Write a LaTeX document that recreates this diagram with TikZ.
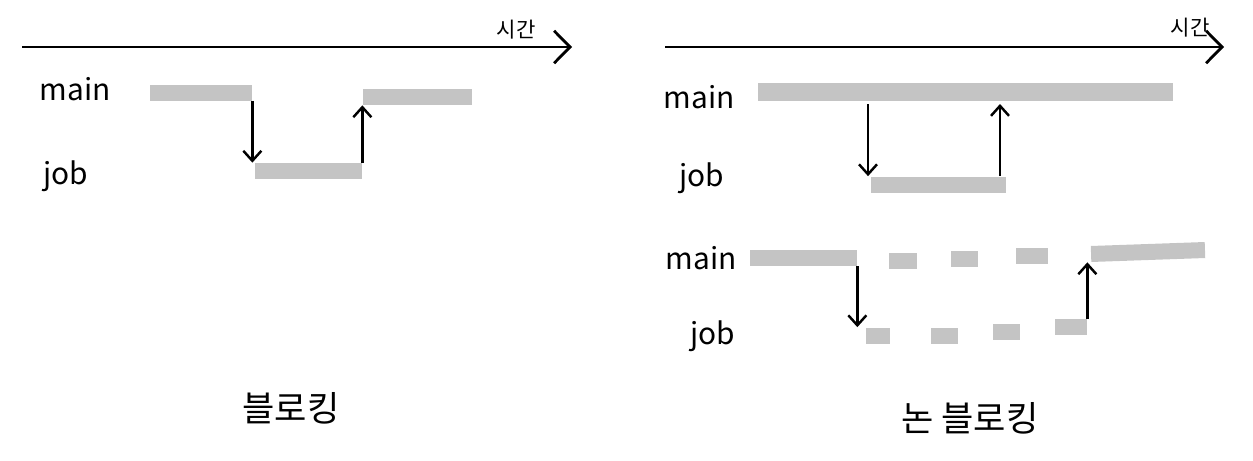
\documentclass[tikz,border=0pt]{standalone}
\usepackage{fontspec}
\setmainfont{Noto Sans CJK KR}
\usetikzlibrary{arrows.meta}
\definecolor{barGray}{HTML}{C4C4C4}
\begin{document}
\begin{tikzpicture}[
    x=0.02cm, y=-0.02cm,
    bar/.style={fill=barGray, inner sep=0pt, minimum height=0.32cm},
    lbl/.style={font=\fontsize{17}{19}\selectfont, inner sep=0pt},
    title/.style={font=\fontsize{20}{22}\selectfont, inner sep=0pt},
    timelbl/.style={font=\fontsize{12}{14}\selectfont, inner sep=0pt},
    axis/.style={line width=1.6pt, -{Straight Barb[length=3.2mm, width=6.5mm, line width=1.6pt]}},
    call/.style={line width=1.4pt, -{Straight Barb[length=2mm, width=3.6mm, line width=1.4pt]}}
  ]
  \useasboundingbox (0,0) rectangle (1253,460);

  % blocking
  \coordinate (t0) at (22,47);
  \coordinate (t1) at (572,47);
  \draw[axis] (t0) -- (t1);
  \node[timelbl] (time1) at (516,30) {시간};
  \node[lbl] (main1) at (75,89) {main};
  \node[lbl] (job1) at (66,176) {job};
  \node[bar, minimum width=2.04cm] (m1) at (201,92.5) {};
  \node[bar, minimum width=2.18cm] (m2) at (417.5,97) {};
  \node[bar, minimum width=2.14cm] (j1) at (308.5,171) {};
  \draw[call] (m1.south east) -- (m1.south east |- j1.north);
  \draw[call] (j1.north east) -- (j1.north east |- m2.south);
  \node[title] (blk) at (291,408) {블로킹};

  % non-blocking
  \coordinate (t2) at (665,47);
  \coordinate (t3) at (1224,47);
  \draw[axis] (t2) -- (t3);
  \node[timelbl] (time2) at (1190,28) {시간};
  \node[lbl] (main2) at (699,97) {main};
  \node[lbl] (job2) at (702,178) {job};
  \node[bar, minimum width=8.3cm, minimum height=0.36cm] (m3) at (965.5,92) {};
  \node[bar, minimum width=2.7cm] (j2) at (938.5,184.5) {};
  \coordinate (c1) at (868,104);
  \coordinate (c2) at (1000,104);
  \draw[call] (c1) -- (c1 |- j2.north);
  \draw[call] (c2 |- j2.north) -- (c2);

  \node[lbl] (main3) at (701,258) {main};
  \node[lbl] (job3) at (713,336) {job};
  \node[bar, minimum width=2.14cm] (m4) at (803.5,258) {};
  \node[bar, minimum width=0.56cm] (d1) at (903,261) {};
  \node[bar, minimum width=0.54cm] (d2) at (964.5,259) {};
  \node[bar, minimum width=0.64cm] (d3) at (1032,256) {};
  \node[bar, minimum width=2.28cm, rotate=2] (m5) at (1148,252) {};
  \node[bar, minimum width=0.48cm] (j3) at (878,335.5) {};
  \node[bar, minimum width=0.54cm] (j4) at (944.5,336) {};
  \node[bar, minimum width=0.54cm] (j5) at (1006.5,332) {};
  \node[bar, minimum width=0.64cm] (j6) at (1071,327) {};
  \draw[call] (m4.south east) -- (m4.south east |- j3.north);
  \draw[call] (j6.north east) -- (j6.north east |- m5.south west);
  \node[title] (nblk) at (970,418) {논 블로킹};
\end{tikzpicture}
\end{document}
